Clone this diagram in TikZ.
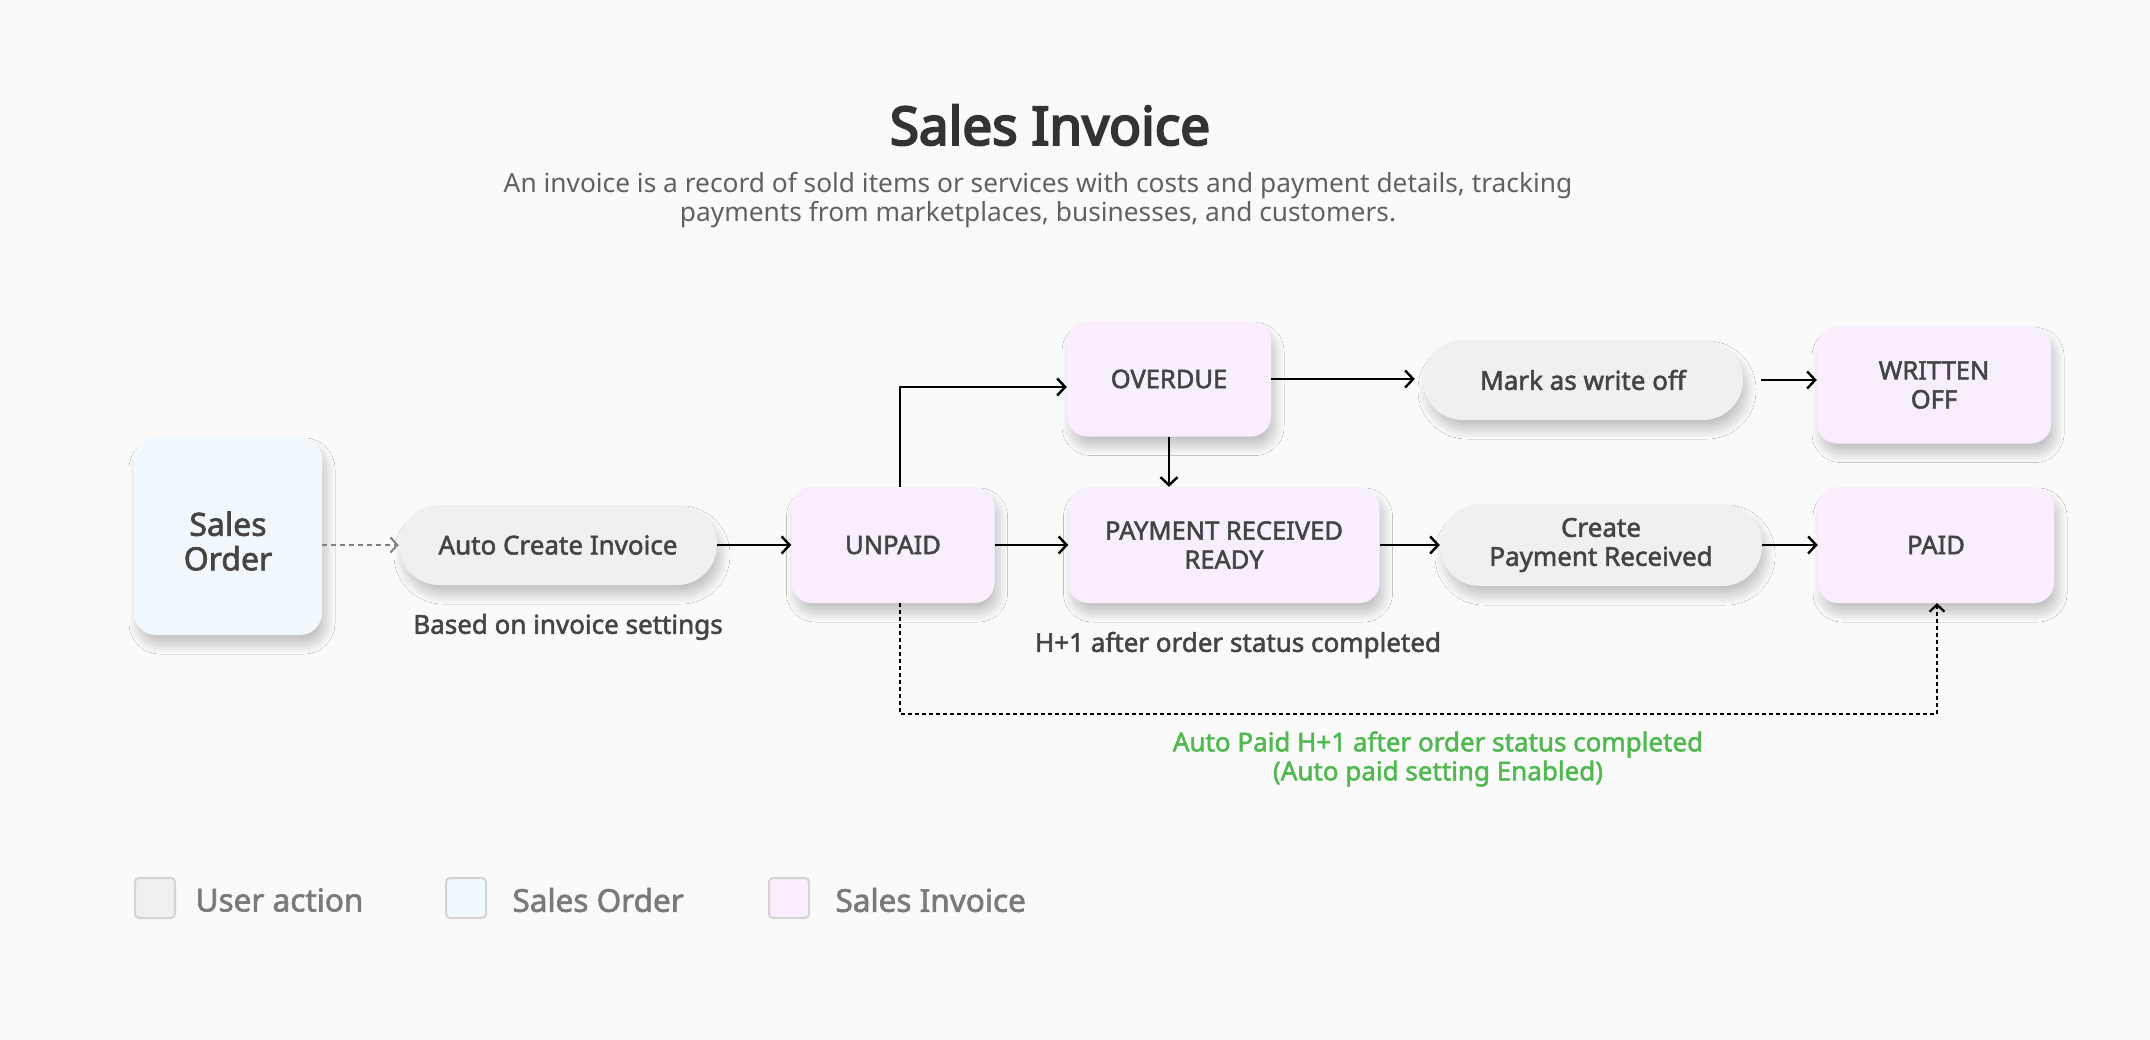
\documentclass[tikz,border=0pt]{standalone}
\usepackage{fontspec}
\setmainfont{Noto Sans}
\newfontfamily\medfont{Noto Sans}[FakeBold=2]
\newfontfamily\headfont{Noto Sans}[FakeBold=4]
\usepackage{tikz}
\usetikzlibrary{arrows.meta,calc,shadows.blur}
\definecolor{bgcol}{HTML}{FAFAFA}
\definecolor{sofill}{HTML}{F1F8FE}
\definecolor{invfill}{HTML}{F9EEFD}
\definecolor{actfill}{HTML}{F0F0F0}
\definecolor{txtcol}{HTML}{444444}
\definecolor{greencol}{HTML}{52B952}
\definecolor{legcol}{HTML}{7A7A7A}
\newcommand{\fs}[2]{\fontsize{#1}{#2}\selectfont}

\begin{document}
\begin{tikzpicture}[x=1pt,y=-1pt,
  card/.style={blur shadow={shadow xshift=4pt,shadow yshift=-10pt,shadow blur radius=9pt,shadow blur steps=30,shadow opacity=22},
    text=txtcol,align=center,inner sep=0pt},
  sobox/.style={card,fill=sofill,rounded corners=22pt,minimum width=188pt,minimum height=198pt,font=\medfont\fs{32}{34}},
  invbox/.style={card,fill=invfill,rounded corners=20pt,minimum height=116pt,font=\medfont\fs{25.5}{29}},
  actbox/.style={card,fill=actfill,rounded corners=40pt,minimum height=80pt,font=\medfont\fs{26}{29}},
  flow/.style={line width=2.4pt,-{Straight Barb[length=8pt,width=17pt,line width=2.4pt]}},
  note/.style={text=txtcol,font=\medfont\fs{26}{29}},
  legbox/.style={draw=black!17,line width=2pt,rounded corners=4pt,minimum size=40pt,inner sep=0pt},
  legtext/.style={text=legcol,font=\medfont\fs{31.5}{34},anchor=west}]
  \fill[bgcol] (0,0) rectangle (2150,1040);
  \useasboundingbox (0,0) rectangle (2150,1040);

  % heading
  \node[text=black!80,font=\headfont\fs{53}{56}] (title) at (1050,125) {Sales Invoice};
  \node[text=black!62,font=\fs{26.3}{29},align=center] (sub) at (1038,200)
    {An invoice is a record of sold items or services with costs and payment details, tracking\\payments from marketplaces, businesses, and customers.};

  % states and actions
  \node[sobox] (so) at (228,536) {\raisebox{-10pt}[\height][\depth]{\begin{tabular}{@{}c@{}}Sales\\Order\end{tabular}}};
  \node[actbox,minimum width=318pt] (auto) at (558,545) {Auto Create Invoice};
  \node[invbox,minimum width=203pt] (unpaid) at (893,545) {UNPAID};
  \node[invbox,minimum width=204pt,minimum height=115pt] (overdue) at (1169,379) {OVERDUE};
  \node[invbox,minimum width=311pt] (pay) at (1224,545) {PAYMENT RECEIVED\\READY};
  \node[actbox,minimum width=320pt] (mark) at (1583,380) {Mark as write off};
  \node[invbox,minimum width=234pt,minimum height=117pt] (written) at (1934,385) {WRITTEN\\OFF};
  \node[actbox,minimum width=322pt,minimum height=82pt] (create) at (1601,545) {Create\\Payment Received};
  \node[invbox,minimum width=236pt] (paid) at (1936,545) {PAID};

  \node[note] (based) at (568,627) {Based on invoice settings};
  \node[note] (hone) at (1238,645) {H+1 after order status completed};
  \node[text=greencol,font=\medfont\fs{26}{29},align=center] (autopaid) at (1438,759)
    {Auto Paid H+1 after order status completed\\(Auto paid setting Enabled)};

  % connectors
  \coordinate (bend) at (900,387);
  \coordinate (lowleft) at (900,714);
  \coordinate (lowright) at (1937,714);
  \draw[gray,line width=2pt,dash pattern=on 5pt off 4pt,-{Straight Barb[length=7pt,width=15pt,line width=2pt]}] (so.east |- auto) -- (auto.west);
  \draw[flow] (auto.east) -- (unpaid.west);
  \draw[flow] (unpaid.east) -- (pay.west);
  \draw[flow] (pay.east) -- (create.west);
  \draw[flow] (create.east) -- (paid.west);
  \draw[flow] (unpaid.north -| bend) |- (overdue.west |- bend);
  \draw[flow] (overdue.south) -- (overdue.south |- pay.north);
  \draw[flow,shorten >=8pt] (overdue.east) -- (overdue.east -| mark.west);
  \draw[flow,shorten <=18pt] (mark.east) -- (mark.east -| written.west);
  \draw[line width=2.2pt,dash pattern=on 4pt off 3pt,-{Straight Barb[length=7pt,width=15pt,line width=2.2pt]}]
    (unpaid.south -| lowleft) |- (lowright) -- (paid.south -| lowright);

  % legend
  \node[legbox,fill=actfill] (legact) at (155,898) {};
  \node[legtext] (legacttext) at (192,900) {User action};
  \node[legbox,fill=sofill] (legso) at (466,898) {};
  \node[legtext] (legsotext) at (509,900) {Sales Order};
  \node[legbox,fill=invfill] (leginv) at (789,898) {};
  \node[legtext] (leginvtext) at (832,900) {Sales Invoice};
\end{tikzpicture}
\end{document}
